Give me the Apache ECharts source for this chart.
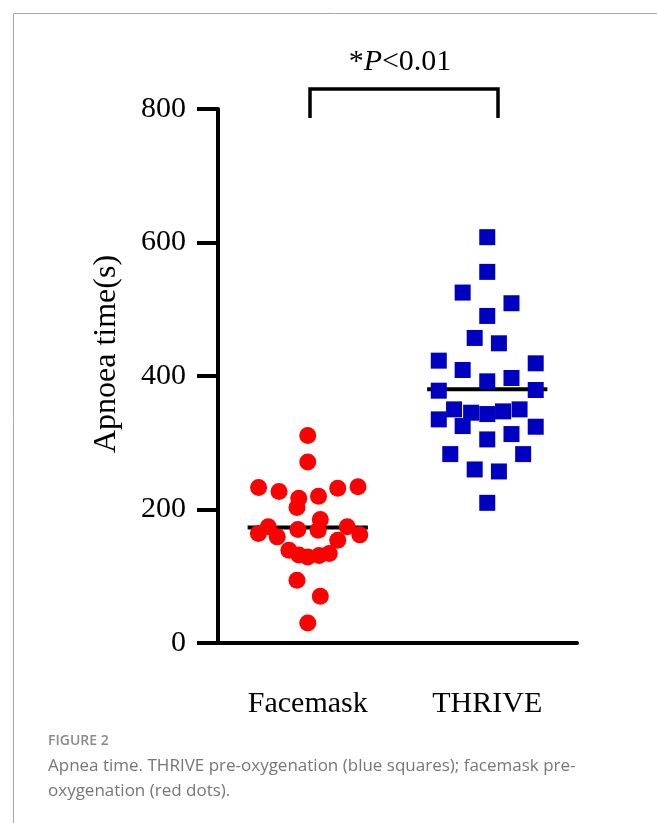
<!DOCTYPE html>
<html>
<head>
<meta charset="utf-8">
<title>Apnoea time</title>
<script src="https://cdn.jsdelivr.net/npm/echarts@6/dist/echarts.min.js"></script>
<style>
  html, body { margin: 0; padding: 0; background: #fff; }
  #chart { width: 657px; height: 823px; }
</style>
</head>
<body>
<div id="chart"></div>
<script>
// groups on the x axis
const categories = ["Facemask", "THRIVE"];
const yTicks = [0, 200, 400, 600, 800];

// facemask apnoea times (s) and their sideways spread in the swarm (category units)
const faceValues = [311, 271, 233, 227, 232, 234, 217, 220, 203, 185, 174, 164, 159,
  170, 169, 174, 162, 154, 139, 132, 129, 131, 134, 94, 70, 30];
const faceSpread = [0, 0, -0.274, -0.16, 0.167, 0.28, -0.05, 0.06, -0.06, 0.07, -0.22, -0.275, -0.17,
  -0.055, 0.058, 0.22, 0.29, 0.167, -0.105, -0.05, 0, 0.063, 0.12, -0.06, 0.07, 0];

// THRIVE apnoea times (s)
const thriveValues = [608, 556, 525, 509, 490, 457, 449, 423, 409, 419, 392, 397, 378, 379,
  350, 345, 343, 347, 350, 335, 325, 324, 305, 313, 283, 283, 260, 257, 210];
const thriveSpread = [0, 0, -0.137, 0.135, 0, -0.07, 0.065, -0.27, -0.137, 0.27, 0, 0.135, -0.27, 0.27,
  -0.185, -0.09, 0, 0.088, 0.18, -0.27, -0.137, 0.27, 0, 0.135, -0.206, 0.2, -0.07, 0.065, 0];

// group means
const means = [173, 380];

const serif = "'Liberation Serif', 'DejaVu Serif', serif";
const meanHalf = 0.335;

const toPoints = (vals, spread, pos) => vals.map((v, i) => [pos + spread[i], v]);

const chart = echarts.init(document.getElementById("chart"));

chart.setOption({
  animation: false,
  grid: { left: 218, right: 80, top: 109, bottom: 180 },
  xAxis: [
    {
      type: "category",
      data: categories,
      axisLine: { lineStyle: { color: "#000", width: 4 } },
      axisTick: { alignWithLabel: true, length: 21, lineStyle: { color: "#000", width: 4 } },
      axisLabel: { color: "#000", fontFamily: serif, fontSize: 30, margin: 46 }
    },
    { type: "value", min: 0.5, max: 2.5, show: false }
  ],
  yAxis: {
    type: "value",
    min: yTicks[0],
    max: yTicks[yTicks.length - 1],
    interval: 200,
    name: "Apnoea time(s)",
    nameLocation: "middle",
    nameGap: 95,
    nameTextStyle: { color: "#000", fontFamily: serif, fontSize: 32, padding: [0, 0, 0, 44] },
    splitLine: { show: false },
    axisLine: { show: true, lineStyle: { color: "#000", width: 4 } },
    axisTick: { show: true, length: 21, lineStyle: { color: "#000", width: 4 } },
    axisLabel: { color: "#000", fontFamily: serif, fontSize: 30, margin: 32 }
  },
  series: [
    {
      type: "line",
      xAxisIndex: 1,
      z: 1,
      symbol: "none",
      lineStyle: { color: "#000", width: 4 },
      data: [[1 - meanHalf, means[0]], [1 + meanHalf, means[0]]]
    },
    {
      type: "line",
      xAxisIndex: 1,
      z: 1,
      symbol: "none",
      lineStyle: { color: "#000", width: 4 },
      data: [[2 - meanHalf, means[1]], [2 + meanHalf, means[1]]]
    },
    {
      name: "Facemask",
      type: "scatter",
      xAxisIndex: 1,
      z: 3,
      symbol: "circle",
      symbolSize: 17,
      itemStyle: { color: "#ff0000", opacity: 1 },
      data: toPoints(faceValues, faceSpread, 1)
    },
    {
      name: "THRIVE",
      type: "scatter",
      xAxisIndex: 1,
      z: 3,
      symbol: "rect",
      symbolSize: 16,
      itemStyle: { color: "#0000c0", opacity: 1 },
      data: toPoints(thriveValues, thriveSpread, 2)
    }
  ],
  graphic: [
    {
      type: "rect",
      silent: true,
      shape: { x: 13.5, y: 13.5, width: 700, height: 900 },
      style: { fill: "none", stroke: "#a8a8a8", lineWidth: 1 }
    },
    {
      type: "polyline",
      shape: { points: [[310, 118], [310, 89], [498, 89], [498, 118]] },
      style: { fill: "none", stroke: "#000", lineWidth: 3.5 }
    },
    {
      type: "text",
      x: 400,
      y: 62,
      style: {
        text: "{a|*}{p|P}{a|<0.01}",
        align: "center",
        verticalAlign: "middle",
        rich: {
          a: { fontFamily: serif, fontSize: 30, fill: "#000" },
          p: { fontFamily: serif, fontSize: 30, fontStyle: "italic", fill: "#000" }
        }
      }
    },
    {
      type: "text",
      x: 48,
      y: 734,
      style: {
        text: "FIGURE 2",
        fontFamily: "'Open Sans', 'Noto Sans', sans-serif",
        fontSize: 14,
        fontWeight: 600,
        fill: "#8a8a8a"
      }
    },
    {
      type: "text",
      x: 48,
      y: 754,
      style: {
        text: "Apnea time. THRIVE pre-oxygenation (blue squares); facemask pre-\noxygenation (red dots).",
        fontFamily: "'Open Sans', 'Noto Sans', sans-serif",
        fontSize: 17,
        lineHeight: 25,
        fill: "#767676"
      }
    }
  ]
});
</script>
</body>
</html>
